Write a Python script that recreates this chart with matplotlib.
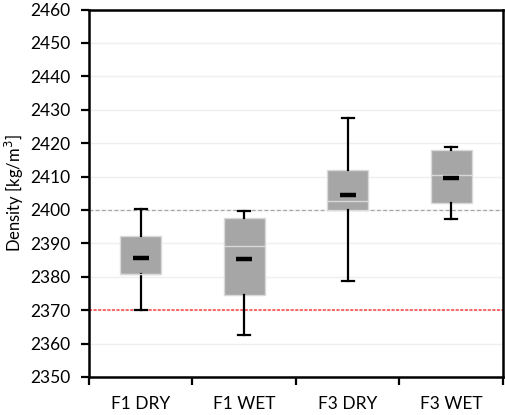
import matplotlib.pyplot as plt
from matplotlib.ticker import MultipleLocator, FixedLocator

# values
labels = ["F1 DRY", "F1 WET", "F3 DRY", "F3 WET"]
whis_lo = [2370.1, 2362.7, 2378.8, 2397.2]
q1 = [2380.7, 2374.5, 2400.0, 2402.2]
median = [2380.7, 2389.2, 2402.7, 2410.4]
q3 = [2392.2, 2397.7, 2412.0, 2418.1]
whis_hi = [2400.2, 2399.8, 2427.5, 2418.8]
mean = [2385.5, 2385.2, 2404.4, 2409.5]

ref_grey = 2400
ref_red = 2370

plt.rcParams['font.family'] = ['Lato', 'DejaVu Sans']

fig = plt.figure(figsize=(5.05, 4.15), dpi=100)
ax = fig.add_axes([0.1762, 0.0916, 0.8198, 0.8854])

stats = []
for i in range(len(labels)):
    stats.append(dict(label=labels[i], whislo=whis_lo[i], q1=q1[i], med=median[i],
                      q3=q3[i], whishi=whis_hi[i], mean=mean[i]))

ax.bxp(stats, positions=range(len(labels)), widths=0.4, patch_artist=True,
       showmeans=True, showfliers=False, capwidths=0.12,
       boxprops=dict(facecolor='#A6A6A6', edgecolor='#D9D9D9', linewidth=1),
       medianprops=dict(color='#D9D9D9', linewidth=1),
       whiskerprops=dict(color='black', linewidth=1.6),
       capprops=dict(color='black', linewidth=1.6),
       meanprops=dict(marker='_', markersize=11, markeredgewidth=3.2,
                      markeredgecolor='black'),
       zorder=3)

ax.axhline(ref_grey, color='#A6A6A6', linestyle=(0, (3, 2)), linewidth=0.9, zorder=2)
ax.axhline(ref_red, color='#FF4040', linestyle=(0, (2, 1)), linewidth=1.1, zorder=2)

ax.set_ylim(2350, 2460)
ax.set_xlim(-0.5, len(labels) - 0.5)
ax.yaxis.set_major_locator(MultipleLocator(10))
ax.grid(axis='y', color='#EFEFEF', linewidth=1, zorder=0)
ax.set_axisbelow(True)

ax.xaxis.set_major_locator(FixedLocator([i - 0.5 for i in range(len(labels) + 1)]))
ax.xaxis.set_minor_locator(FixedLocator(range(len(labels))))
ax.set_xticklabels([])
ax.set_xticklabels(labels, minor=True)
ax.tick_params(axis='x', which='major', direction='out', length=6, width=1.6)
ax.tick_params(axis='x', which='minor', length=0, pad=14, labelsize=12.5)
ax.tick_params(axis='y', direction='out', length=6, width=1.6, pad=7.5, labelsize=12.5)

for s in ax.spines.values():
    s.set_linewidth(1.8)

ax.set_ylabel("Density [kg/m$^3$]", fontsize=12, labelpad=3)

fig.savefig("out.png", dpi=100)
